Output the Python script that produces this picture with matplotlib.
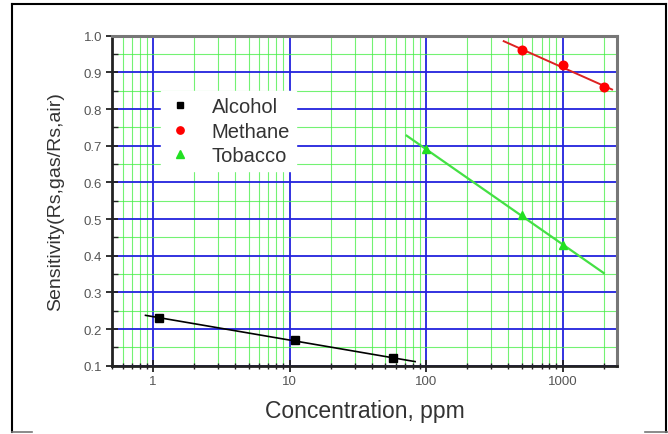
import numpy as np
import matplotlib.pyplot as plt
from matplotlib.ticker import LogLocator, MultipleLocator, FixedLocator, NullFormatter
from matplotlib.lines import Line2D

plt.rcParams['font.family'] = ['Liberation Sans', 'DejaVu Sans']

# --- data ---
alcohol_x = [1.1, 11, 57]
alcohol_y = [0.23, 0.17, 0.12]
methane_x = [500, 1000, 2000]
methane_y = [0.96, 0.92, 0.86]
tobacco_x = [100, 500, 1000]
tobacco_y = [0.69, 0.51, 0.43]

# x extent of each fitted line
alcohol_fit = [0.88, 83]
methane_fit = [370, 2300]
tobacco_fit = [72, 2000]

xticks = [1, 10, 100, 1000]
xtick_labels = ['1', '10', '100', '1000']
yticks = [0.1, 0.2, 0.3, 0.4, 0.5, 0.6, 0.7, 0.8, 0.9, 1.0]

fig = plt.figure(figsize=(6.68, 4.35), dpi=100)
ax = fig.add_axes([112 / 668, 1 - 366.7 / 435, 505 / 668, 330 / 435])

# outer frame of the figure
fig.add_artist(Line2D([11.7 / 668, 11.7 / 668], [1 - 433 / 435, 1 - 4.7 / 435],
                      color='black', lw=1.5, transform=fig.transFigure))
fig.add_artist(Line2D([11.7 / 668, 665.7 / 668], [1 - 4.7 / 435, 1 - 4.7 / 435],
                      color='black', lw=1.5, transform=fig.transFigure))
fig.add_artist(Line2D([665.7 / 668, 665.7 / 668], [1 - 4.7 / 435, 1 - 433 / 435],
                      color='black', lw=1.5, transform=fig.transFigure))
fig.add_artist(Line2D([11.7 / 668, 32 / 668], [1 - 433 / 435, 1 - 433 / 435],
                      color='#777777', lw=1.2, transform=fig.transFigure))
fig.add_artist(Line2D([645 / 668, 668 / 668], [1 - 433 / 435, 1 - 433 / 435],
                      color='#777777', lw=1.2, transform=fig.transFigure))


def fit_line(xs, ys, xr):
    k, b = np.polyfit(np.log10(xs), ys, 1)
    xx = np.array(xr)
    return xx, k * np.log10(xx) + b


ax.set_xscale('log')
ax.set_xlim(0.5, 2500)
ax.set_ylim(0.1, 1.0)

ax.xaxis.set_major_locator(FixedLocator(xticks))
ax.set_xticklabels(xtick_labels)
ax.xaxis.set_minor_locator(LogLocator(base=10, subs=np.arange(2, 10)))
ax.xaxis.set_minor_formatter(NullFormatter())
ax.yaxis.set_major_locator(FixedLocator(yticks))
ax.set_yticklabels([f'{v:.1f}' for v in yticks])
ax.yaxis.set_minor_locator(MultipleLocator(0.05))

ax.grid(which='minor', color='#44ee44', lw=0.8, alpha=0.75)
ax.grid(which='major', color='#2222dd', lw=1.3)
ax.set_axisbelow(True)

# fitted lines
lx, ly = fit_line(alcohol_x, alcohol_y, alcohol_fit)
ax.plot(lx, ly, color='black', lw=1.2, zorder=3)
lx, ly = fit_line(methane_x, methane_y, methane_fit)
ax.plot(lx, ly, color='#dd2222', lw=1.4, zorder=3)
lx, ly = fit_line(tobacco_x, tobacco_y, tobacco_fit)
ax.plot(lx, ly, color='#44e044', lw=1.6, zorder=3)

# data points
ax.plot(alcohol_x, alcohol_y, 's', color='black', ms=5.5, zorder=4, label='Alcohol')
ax.plot(methane_x, methane_y, 'o', color='#ff0000', ms=6.2, zorder=4, label='Methane')
ax.plot(tobacco_x, tobacco_y, '^', color='#22e022', ms=6.2, zorder=4, label='Tobacco')

leg = ax.legend(loc='upper left', bbox_to_anchor=(0.078, 0.862), frameon=True,
                fancybox=False, edgecolor='white', facecolor='white', framealpha=1,
                fontsize=14.5, handlelength=1.2, handletextpad=1.0, labelspacing=0.27,
                borderpad=0.3, markerscale=0.85)
for t in leg.get_texts():
    t.set_color('#333333')

for side in ['top', 'right']:
    ax.spines[side].set_color('#777777')
    ax.spines[side].set_linewidth(2.2)
for side in ['left', 'bottom']:
    ax.spines[side].set_color('#222222')
    ax.spines[side].set_linewidth(2.0)

ax.tick_params(which='major', direction='inout', length=8, width=1.3,
               colors='#222222', labelcolor='#555555', labelsize=9.5, pad=3)
ax.tick_params(which='minor', direction='in', length=4, width=1.0, colors='#222222')
ax.tick_params(axis='x', which='minor', direction='inout', length=5)

ax.set_xlabel('Concentration, ppm', fontsize=16.5, color='#333333', labelpad=8)
ax.set_ylabel('Sensitivity(Rs,gas/Rs,air)', fontsize=14, color='#333333', labelpad=14)

fig.savefig('out.png', dpi=100)
